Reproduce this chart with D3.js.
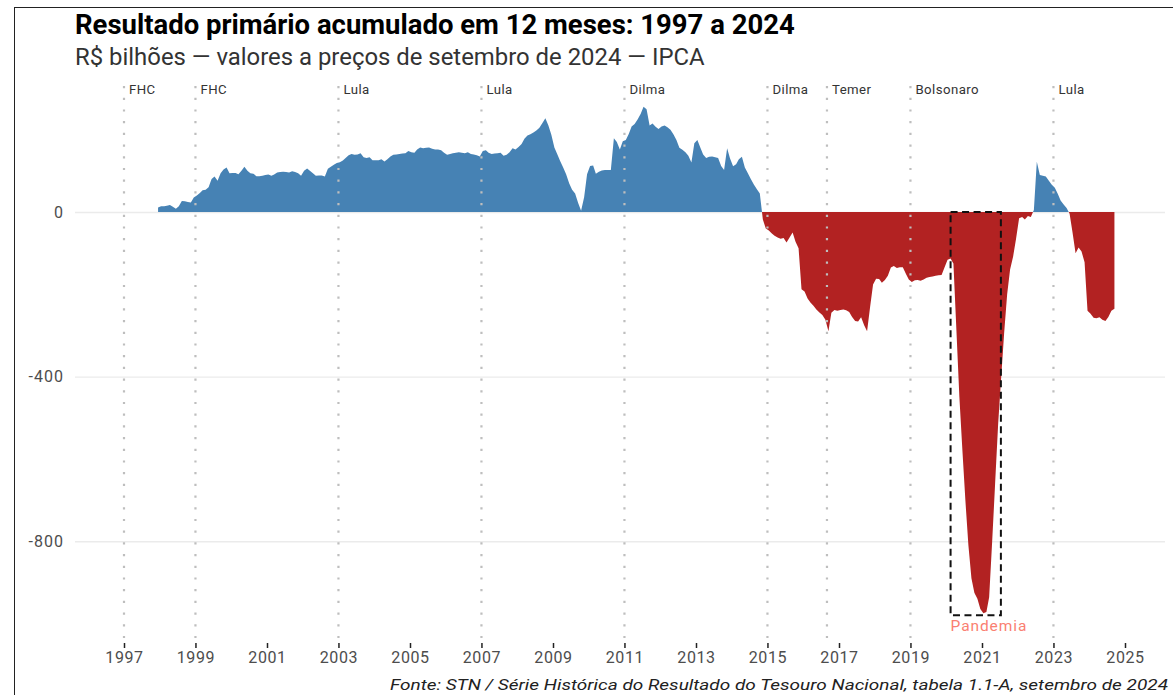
<!DOCTYPE html>
<html>
<head>
<meta charset="utf-8">
<script src="https://cdn.jsdelivr.net/npm/d3@7"></script>
<style>
  body { margin: 0; background: #fff; }
  svg { display: block; font-family: Roboto, "Noto Sans", sans-serif; }
</style>
</head>
<body>
<div id="chart"></div>
<script>
// primeiro mês da série (acumulado de 12 meses) — dez/1997
const startMonth = new Date(1997, 11, 15)

// R$ bilhões, dez/1997 ... set/2024
const values = [
  11,14,14,15,17,13,8,14,27,26,
  24,23,35,40,46,53,54,60,80,86,
  76,94,103,108,94,95,95,92,100,110,
  100,94,93,87,87,88,90,91,88,91,
  96,97,98,97,96,99,97,94,88,100,
  106,100,94,88,89,89,86,105,110,115,
  119,121,125,131,138,141,139,140,143,
  133,131,133,126,126,126,128,123,128,135,139,
  140,141,142,143,148,145,144,152,157,155,
  156,157,154,152,152,150,144,139,141,143,
  144,145,144,143,145,141,140,138,135,148,
  150,144,141,142,143,144,137,139,145,155,
  152,158,165,178,186,189,193,198,205,216,
  228,210,188,157,140,124,108,92,
  70,54,
  45,22,3,36,92,112,113,93,98,101,
  102,102,102,179,170,152,172,175,190,208,
  214,225,238,256,250,210,215,207,202,208,
  210,206,200,189,175,156,151,145,137,120,
  167,175,156,140,131,134,135,133,131,112,
  102,155,130,111,116,128,134,108,94,80,
  67,55,45,-18,
  -40,-45,-52,-58,-62,-65,
  -63,-74,-62,-50,-72,-88,-188,-193,-210,-220,
  -228,-237,-244,-250,-262,-290,-245,-238,-240,-238,
  -237,-239,-243,-255,-265,-266,-256,-275,-290,-230,
  -176,-162,-163,-172,-165,-155,-135,-131,-136,-134,
  -134,-150,-164,-170,-166,-165,-167,-164,-160,-158,
  -157,-155,-154,-153,-135,-116,-113,-125,
  -290,-450,-580,-700,-810,-890,-925,-940,-965,-975,
  -972,-936,-800,-660,-515,-405,-295,-200,-140,-108,
  -65,-15,-12,-18,-10,-12,5,122,90,88,
  86,76,66,59,44,28,18,10,-4,-50,
  -100,-86,-96,-122,-240,-247,-257,-258,-256,-262,
  -265,-255,-240,-235
]

// mandatos presidenciais
const termLabels = ["FHC", "FHC", "Lula", "Lula", "Dilma", "Dilma", "Temer", "Bolsonaro", "Lula"]
const termStarts = ["1997-01-01", "1999-01-01", "2003-01-01", "2007-01-01", "2011-01-01",
                    "2015-01-01", "2016-08-31", "2019-01-01", "2023-01-01"]

const yTicks = [-800, -400, 0]
const xTickYears = d3.range(1997, 2026, 2)

// destaque da pandemia
const pandemicStart = "2020-02-15"
const pandemicEnd = "2021-07-13"
const pandemicLow = -980
const pandemicLabel = "Pandemia"

const titleText = "Resultado primário acumulado em 12 meses: 1997 a 2024"
const subtitleText = "R$ bilhões — valores a preços de setembro de 2024 — IPCA"
const captionText = "Fonte: STN / Série Histórica do Resultado do Tesouro Nacional, tabela 1.1-A, setembro de 2024"

const width = 1173, height = 695
const panel = { left: 75, right: 1165 }

const parse = d3.timeParse("%Y-%m-%d")
const data = values.map((v, i) => ({ date: d3.timeMonth.offset(startMonth, i), value: v }))

const svg = d3.select("#chart").append("svg")
    .attr("viewBox", [0, 0, width, height])
    .attr("width", width)
    .attr("height", height)

// moldura
svg.append("rect")
    .attr("x", 14.5).attr("y", 7.5)
    .attr("width", width + 20).attr("height", height + 20)
    .attr("fill", "#fff").attr("stroke", "#222").attr("stroke-width", 1)

const xScale = d3.scaleTime()
    .domain([new Date(1997, 0, 1), new Date(2025, 0, 1)])
    .range([124, 1125])

const yScale = d3.scaleLinear()
    .domain([-800, 0])
    .range([541.2, 212])

//fit text to a width measured on the reference
function fitWidth(sel, target) {
    const w = sel.node().getComputedTextLength()
    const fs = parseFloat(sel.attr("font-size"))
    sel.attr("font-size", fs * target / w)
}

// gridlines + y labels
const yAxis = svg.append("g")
    .attr("transform", `translate(${panel.left},0)`)
    .call(d3.axisLeft(yScale)
        .tickValues(yTicks)
        .tickSize(-(panel.right - panel.left))
        .tickPadding(11)
        .tickFormat(d3.format("d")))
yAxis.select(".domain").remove()
yAxis.selectAll(".tick line").attr("stroke", "#ebebeb").attr("stroke-width", 1.4)
yAxis.selectAll(".tick text")
    .attr("font-size", 16).attr("fill", "#4d4d4d")
    .attr("font-family", "Roboto, sans-serif")
    .attr("letter-spacing", 1)
    .text(d => d < 0 ? "-" + Math.abs(d) : d)

// area, split by sign
const area = d3.area()
    .x(d => xScale(d.date))
    .y0(yScale(0))
    .y1(d => yScale(d.value))

const defs = svg.append("defs")
defs.append("clipPath").attr("id", "clip-pos")
    .append("rect").attr("x", 0).attr("y", 0).attr("width", width).attr("height", yScale(0))
defs.append("clipPath").attr("id", "clip-neg")
    .append("rect").attr("x", 0).attr("y", yScale(0)).attr("width", width).attr("height", height)

svg.append("path").datum(data)
    .attr("fill", "#4682b4")
    .attr("clip-path", "url(#clip-pos)")
    .attr("d", area)
svg.append("path").datum(data)
    .attr("fill", "#b22222")
    .attr("clip-path", "url(#clip-neg)")
    .attr("d", area)

// linhas dos mandatos
const terms = termLabels.map((t, i) => ({ label: t, date: parse(termStarts[i]) }))
const termG = svg.append("g")
termG.selectAll("line").data(terms).join("line")
    .attr("x1", d => xScale(d.date)).attr("x2", d => xScale(d.date))
    .attr("y1", 86).attr("y2", 640)
    .attr("stroke", "#bebebe")
    .attr("stroke-width", 2.2)
    .attr("stroke-dasharray", "2.2 9.5")
termG.selectAll("text").data(terms).join("text")
    .attr("x", d => xScale(d.date) + 5)
    .attr("y", 94)
    .attr("font-size", 13.2)
    .attr("letter-spacing", 0.45)
    .attr("fill", "#333")
    .text(d => d.label)

// caixa da pandemia
const bx0 = xScale(parse(pandemicStart)), bx1 = xScale(parse(pandemicEnd))
svg.append("rect")
    .attr("x", bx0).attr("y", yScale(0))
    .attr("width", bx1 - bx0).attr("height", yScale(pandemicLow) - yScale(0))
    .attr("fill", "none")
    .attr("stroke", "#111")
    .attr("stroke-width", 2)
    .attr("stroke-dasharray", "7 4.5")
svg.append("text")
    .attr("x", bx0)
    .attr("y", 631)
    .attr("font-size", 15.5)
    .attr("letter-spacing", 0.9)
    .attr("fill", "#fa8072")
    .text(pandemicLabel)

// x axis
const xAxis = svg.append("g")
    .attr("transform", "translate(0,643)")
    .call(d3.axisBottom(xScale)
        .tickValues(xTickYears.map(y => new Date(y, 0, 1)))
        .tickFormat(d3.timeFormat("%Y"))
        .tickSize(5)
        .tickPadding(4))
xAxis.select(".domain").remove()
xAxis.selectAll(".tick line").attr("stroke", "#222").attr("stroke-width", 1.5)
xAxis.selectAll(".tick text")
    .attr("font-size", 16).attr("fill", "#4d4d4d")
    .attr("font-family", "Roboto, sans-serif")
    .attr("letter-spacing", 0.6)

// textos
const title = svg.append("text")
    .attr("x", 75).attr("y", 34)
    .attr("font-size", 24).attr("font-weight", 700)
    .attr("fill", "#000")
    .text(titleText)
fitWidth(title, 720)

const subtitle = svg.append("text")
    .attr("x", 75).attr("y", 65)
    .attr("font-size", 19)
    .attr("fill", "#333")
    .text(subtitleText)
fitWidth(subtitle, 630)

svg.append("text")
    .attr("x", 1168).attr("y", 690)
    .attr("text-anchor", "end")
    .attr("font-size", 15.5)
    .attr("font-style", "italic")
    .attr("fill", "#222")
    .attr("textLength", 778)
    .attr("lengthAdjust", "spacingAndGlyphs")
    .text(captionText)
</script>
</body>
</html>
